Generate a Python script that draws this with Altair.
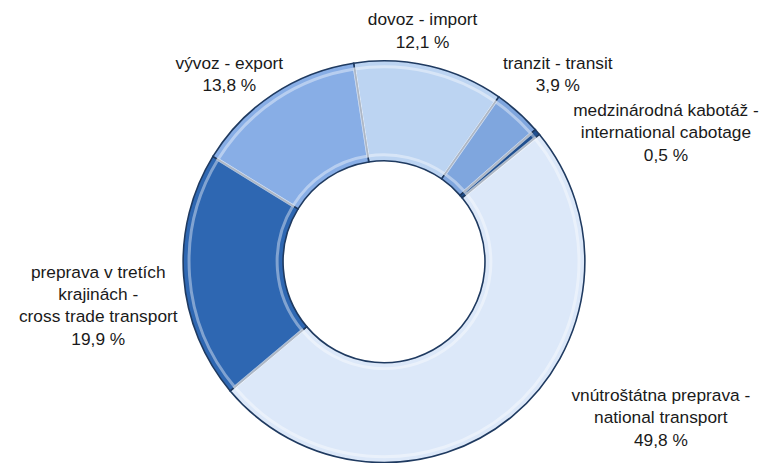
import math
import altair as alt
import pandas as pd

# ---- data ----
categories = [
    "dovoz - import",
    "tranzit - transit",
    "medzinárodná kabotáž -\ninternational cabotage",
    "vnútroštátna preprava -\nnational transport",
    "preprava v tretích\nkrajinách -\ncross trade transport",
    "vývoz - export",
]
shares = [12.1, 3.9, 0.5, 49.8, 19.9, 13.8]
colors = ["#BCD4F2", "#7FA6DE", "#1F4F8F", "#DCE8F9", "#2E67B2", "#88AEE6"]

# ---- layout (not data) ----
start_deg = -8.7
cx, cy = 380, 254
r_outer, r_inner = 203, 102
# per label: angular nudge from slice middle (deg), label radius (px) of first line
label_layout = [(-4.0, 247), (-0.55, 266), (12.1, 323), (-24.45, 311), (1.95, 289), (-4.45, 254)]
FONT = "Liberation Sans"

df = pd.DataFrame({
    "cat": categories,
    "share": shares,
    "order": list(range(len(categories))),
    "label": [f"{c}\n{str(v).replace('.', ',')} %" for c, v in zip(categories, shares)],
})

start = math.radians(start_deg)
theta_scale = alt.Scale(domain=[0, sum(shares)], range=[start, start + 2 * math.pi])
color_scale = alt.Scale(domain=categories, range=colors)

base = alt.Chart(df).transform_window(
    cum="sum(share)", sort=[alt.SortField("order")], frame=[None, 0]
).transform_calculate(
    t0="datum.cum - datum.share", mid="datum.cum - datum.share / 2"
)

arcs = base.mark_arc(
    radius=r_outer, radius2=r_inner, stroke="#1F3A60", strokeWidth=1.6
).encode(
    theta=alt.Theta("t0:Q", scale=theta_scale),
    theta2="cum:Q",
    color=alt.Color("cat:N", scale=color_scale, legend=None),
    x=alt.value(cx), y=alt.value(cy),
)

# subtle inner highlight ring for bevel look
hl = base.mark_arc(
    radius=r_outer - 6, radius2=r_inner + 6, fillOpacity=0, stroke="white",
    strokeOpacity=0.4, strokeWidth=3
).encode(
    theta=alt.Theta("t0:Q", scale=theta_scale),
    theta2="cum:Q",
    x=alt.value(cx), y=alt.value(cy),
)

layers = [arcs, hl]
for cat, (dang, rad) in zip(categories, label_layout):
    layers.append(
        base.transform_filter(alt.datum.cat == cat).mark_text(
            radius=rad, thetaOffset=math.radians(dang), font=FONT, fontSize=17.5,
            lineBreak="\n", lineHeight=22.5, align="center", baseline="middle",
            color="#1a1a1a",
        ).encode(
            theta=alt.Theta("mid:Q", scale=theta_scale),
            text="label:N",
            x=alt.value(cx), y=alt.value(cy),
        )
    )

chart = alt.layer(*layers).properties(
    width=761, height=455, autosize=alt.AutoSizeParams(type="none"), padding=0
).configure_view(stroke=None)

chart.save("out.html", embed_options={"renderer": "svg", "actions": False})
